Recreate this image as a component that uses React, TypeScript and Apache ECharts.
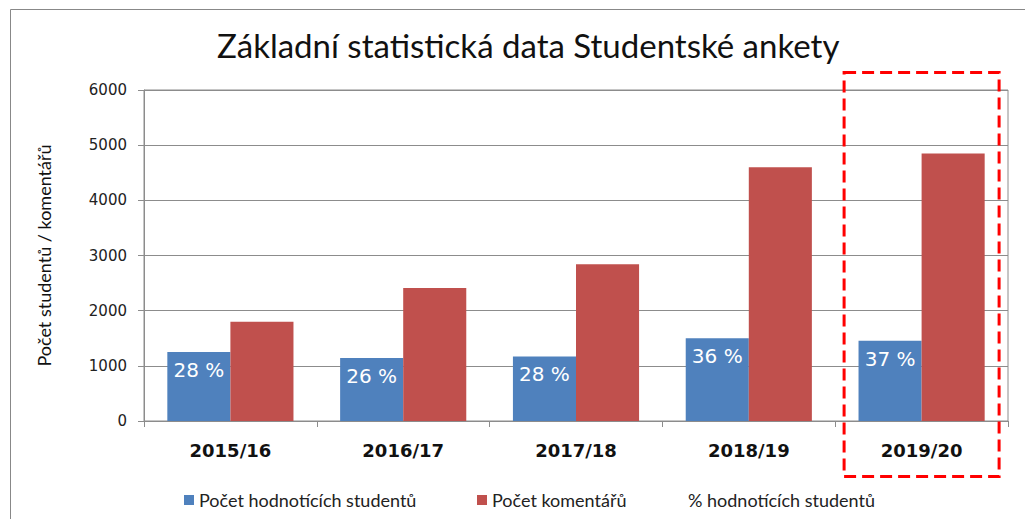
import React, { useEffect, useRef } from "react";
import * as echarts from "echarts";

const categories = ["2015/16", "2016/17", "2017/18", "2018/19", "2019/20"];
const studentsCount = [1250, 1140, 1170, 1500, 1455];
const commentsCount = [1800, 2410, 2840, 4600, 4850];
const pctStudents = [28, 26, 28, 36, 37];
const yMin = 0;
const yMax = 6000;
const yInterval = 1000;
const highlightedCategory = "2019/20";

const seriesNames = ["Počet hodnotících studentů", "Počet komentářů", "% hodnotících studentů"];
const titleText = "Základní statistická data Studentské ankety";
const yAxisName = "Počet studentů / komentářů";

const UI_FONT = "Lato, 'Open Sans', sans-serif";
const NUM_FONT = "'DejaVu Sans', Verdana, sans-serif";
const GRID_COLOR = "#8c8c8c";

export default function App() {
  const ref = useRef<HTMLDivElement>(null);

  useEffect(() => {
    if (!ref.current) return;
    const chart = echarts.init(ref.current, null, { renderer: "svg" });
    const legendCommon = {
      top: 486,
      itemWidth: 10,
      itemHeight: 10,
      itemGap: 0,
      textStyle: { fontFamily: UI_FONT, fontSize: 18, color: "#222" },
      selectedMode: false,
    };
    const option: any = {
      animation: false,
      backgroundColor: "#fff",
      title: {
        text: titleText,
        left: 212,
        top: 23,
        textStyle: { fontFamily: UI_FONT, fontSize: 33, fontWeight: "normal", color: "#111" },
      },
      legend: [
        { ...legendCommon, left: 179, data: [{ name: seriesNames[0], icon: "rect" }] },
        { ...legendCommon, left: 472, data: [{ name: seriesNames[1], icon: "rect" }] },
        {
          ...legendCommon,
          left: 668,
          data: [{ name: seriesNames[2], icon: "rect", itemStyle: { opacity: 0 } }],
        },
      ],
      grid: {
        left: 144,
        right: 17,
        top: 90,
        bottom: 98,
        show: true,
        borderColor: GRID_COLOR,
        borderWidth: 1,
        backgroundColor: "transparent",
      },
      xAxis: {
        type: "category",
        data: categories,
        axisLine: { lineStyle: { color: GRID_COLOR } },
        axisTick: { show: true, length: 6, lineStyle: { color: GRID_COLOR } },
        axisLabel: {
          fontFamily: NUM_FONT,
          fontWeight: "bold",
          fontSize: 18,
          color: "#111",
          margin: 20,
        },
      },
      yAxis: [
        {
          type: "value",
          min: yMin,
          max: yMax,
          interval: yInterval,
          name: yAxisName,
          nameLocation: "middle",
          nameRotate: 90,
          nameGap: 91,
          nameTextStyle: { fontFamily: UI_FONT, fontSize: 18, color: "#111" },
          axisLine: { show: true, lineStyle: { color: GRID_COLOR } },
          axisTick: { show: true, length: 6, lineStyle: { color: GRID_COLOR } },
          axisLabel: {
            fontFamily: NUM_FONT,
            fontSize: 15,
            color: "#222",
            margin: 17,
            formatter: (v: number) => String(v),
          },
          splitLine: { lineStyle: { color: GRID_COLOR, width: 1 } },
        },
        { type: "value", min: 0, max: 100, show: false, splitLine: { show: false } },
      ],
      series: [
        {
          name: seriesNames[0],
          type: "bar",
          data: studentsCount,
          barGap: "0%",
          barCategoryGap: "27%",
          itemStyle: { color: "#4F81BD" },
          label: {
            show: true,
            position: "insideTop",
            distance: 8,
            fontFamily: NUM_FONT,
            fontSize: 20,
            color: "#fff",
            formatter: (p: any) => `${pctStudents[p.dataIndex]} %`,
          },
        },
        {
          name: seriesNames[1],
          type: "bar",
          data: commentsCount,
          barGap: "0%",
          barCategoryGap: "27%",
          itemStyle: { color: "#C0504D" },
        },
        {
          name: seriesNames[2],
          type: "line",
          yAxisIndex: 1,
          data: pctStudents,
          showSymbol: false,
          symbol: "none",
          lineStyle: { opacity: 0 },
          itemStyle: { opacity: 0 },
          silent: true,
        },
      ],
    };
    chart.setOption(option);

    const cx = chart.convertToPixel({ xAxisIndex: 0 }, highlightedCategory) as number;
    chart.setOption({
      graphic: [
        {
          type: "rect",
          shape: { x: 10.5, y: 9.5, width: 1100, height: 600 },
          style: { fill: "none", stroke: "#888", lineWidth: 1 },
          silent: true,
        },
        {
          type: "rect",
          shape: { x: cx - 77.5, y: 72.5, width: 155, height: 404 },
          style: { fill: "none", stroke: "#ff0000", lineWidth: 3, lineDash: [12, 6] },
          silent: true,
          z: 100,
        },
      ],
    });

    return () => chart.dispose();
  }, []);

  return (
    <div
      ref={ref}
      style={{ position: "absolute", left: 0, top: 0, width: 1025, height: 519, background: "#fff" }}
    />
  );
}
